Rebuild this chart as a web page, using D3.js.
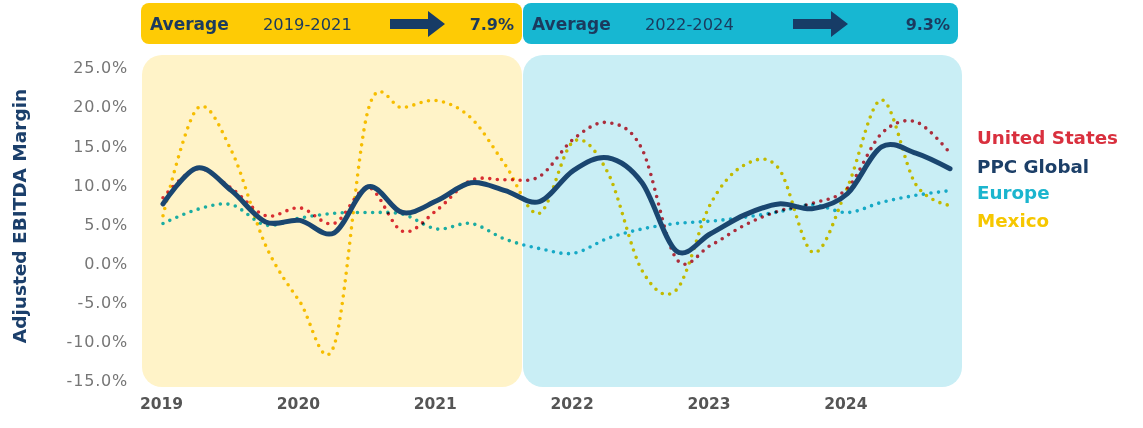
<!DOCTYPE html>
<html><head><meta charset="utf-8">
<script src="https://cdn.jsdelivr.net/npm/d3@7"></script>
<style>
html,body{margin:0;padding:0;background:#fff;}
svg{display:block;font-family:"DejaVu Sans",sans-serif;}
</style></head>
<body>
<svg id="chart" width="1143" height="428"></svg>
<script>
// ---- data (quarterly, 2019 Q1 .. 2024 Q4) ----
const years = ["2019","2020","2021","2022","2023","2024"];
const yTicks = [25,20,15,10,5,0,-5,-10,-15];
const seriesNames = ["United States","PPC Global","Europe","Mexico"];
const usValues = [8.3,12.0,9.5,6.0,7.0,5.0,9.6,4.0,6.7,10.5,10.6,11.0,15.8,17.9,14.5,0.5,2.2,4.8,6.6,7.6,9.5,16.5,18.0,14.0];
const ppcValues = [7.5,12.1,9.2,5.2,5.4,3.8,9.7,6.4,7.9,10.2,9.2,7.8,11.8,13.4,10.2,1.5,3.7,6.1,7.5,6.9,8.8,14.8,14.0,12.0];
const europeValues = [5.0,6.8,7.4,4.8,5.7,6.3,6.4,6.2,4.3,5.0,3.0,1.8,1.2,3.1,4.3,5.0,5.3,5.8,6.5,7.4,6.4,7.7,8.6,9.2];
const mexicoValues = [6.0,19.7,14.3,2.2,-5.0,-10.6,19.6,19.8,20.7,18.5,12.5,6.3,15.5,11.5,-1.0,-3.5,7.5,12.5,12.0,1.3,9.6,20.8,10.0,7.3];
const periods = [
  {label:"Average", range:"2019-2021", avg:"7.9%"},
  {label:"Average", range:"2022-2024", avg:"9.3%"}
];

const svg = d3.select("#chart");
const x = d3.scaleLinear().domain([0,23]).range([163,950]);
const y = d3.scaleLinear().domain([-15,25]).range([380,67]);

const navy = "#1A4670";
const colors = {"United States":"#D9303E","PPC Global":navy,"Europe":"#1BB5CE","Mexico":"#F6C700"};

// background panels
const panelDefs = [
  {x0:142, x1:522, fill:"#FFF3C8", band:"#FECB05", bx0:141, bx1:522, ax:249},
  {x0:523, x1:962, fill:"#C9EEF5", band:"#17B7D2", bx0:523, bx1:958, ax:270}
];
panelDefs.forEach((p,i)=>{
  svg.append("rect").attr("x",p.x0).attr("y",55).attr("width",p.x1-p.x0).attr("height",332)
    .attr("rx",20).attr("fill",p.fill);
  svg.append("rect").attr("x",p.bx0).attr("y",3).attr("width",p.bx1-p.bx0).attr("height",41)
    .attr("rx",8).attr("fill",p.band);
  const per = periods[i];
  const g = svg.append("g").attr("transform",`translate(${p.bx0},0)`);
  g.append("text").attr("x",9).attr("y",30).attr("font-size",17).attr("font-weight",700)
    .attr("fill","#1B3A5E").text(per.label);
  g.append("text").attr("x",122).attr("y",30).attr("font-size",16.3).attr("font-weight",400)
    .attr("fill","#1B3A5E").text(per.range);
  g.append("path").attr("d",`M${p.ax},19 h38 v-8 l17,13 l-17,13 v-8 h-38 z`).attr("fill","#173C66");
  g.append("text").attr("x",p.bx1-p.bx0-8).attr("y",30).attr("text-anchor","end").attr("font-size",16)
    .attr("font-weight",700).attr("fill","#1B3A5E").text(per.avg);
});

// y axis
const yAxis = svg.append("g").attr("transform","translate(128,0)")
  .call(d3.axisLeft(y).tickValues(yTicks).tickSize(0).tickPadding(0).tickFormat(d=>d.toFixed(1)+"%"));
yAxis.select(".domain").remove();
yAxis.selectAll("text").attr("font-size",16).attr("font-family","'DejaVu Sans', sans-serif")
  .attr("letter-spacing","0.8px").attr("fill","#767676").attr("dy","0.36em");

// x axis
const xAxis = svg.append("g").attr("transform","translate(0,397)")
  .call(d3.axisBottom(x).tickValues(years.map((d,i)=>i*4)).tickSize(0).tickPadding(0)
    .tickFormat((d,i)=>years[i]));
xAxis.select(".domain").remove();
xAxis.selectAll("text").attr("font-size",15.5).attr("font-weight",700).attr("fill","#555")
  .attr("font-family","'DejaVu Sans', sans-serif").attr("dy","0.78em").attr("dx","-2");

// y title
svg.append("text").attr("transform","translate(26,216) rotate(-90)").attr("text-anchor","middle")
  .attr("font-size",18.5).attr("font-weight",700).attr("fill","#1B3F6B").text("Adjusted EBITDA Margin");

// lines
const line = d3.line().x((d,i)=>x(i)).y(d=>y(d)).curve(d3.curveCardinal.tension(0));
const dotted = [["Europe",europeValues],["Mexico",mexicoValues],["United States",usValues]];
dotted.forEach(([name,vals])=>{
  svg.append("path").datum(vals).attr("d",line).attr("fill","none")
    .attr("stroke",colors[name]).attr("stroke-width",3.6).attr("stroke-linecap","round")
    .attr("stroke-dasharray","0 7.6").style("mix-blend-mode","multiply");
});
svg.append("path").datum(ppcValues).attr("d",line).attr("fill","none")
  .attr("stroke",navy).attr("stroke-width",5).attr("stroke-linecap","round").attr("stroke-linejoin","round");

// legend
const legendY = [138,167,193,221];
seriesNames.forEach((n,i)=>{
  svg.append("text").attr("x",977).attr("y",legendY[i]+6).attr("font-size",18.3).attr("font-weight",700)
    .attr("fill", n==="PPC Global"?"#1C3F68":colors[n]).text(n);
});
</script>
</body></html>
